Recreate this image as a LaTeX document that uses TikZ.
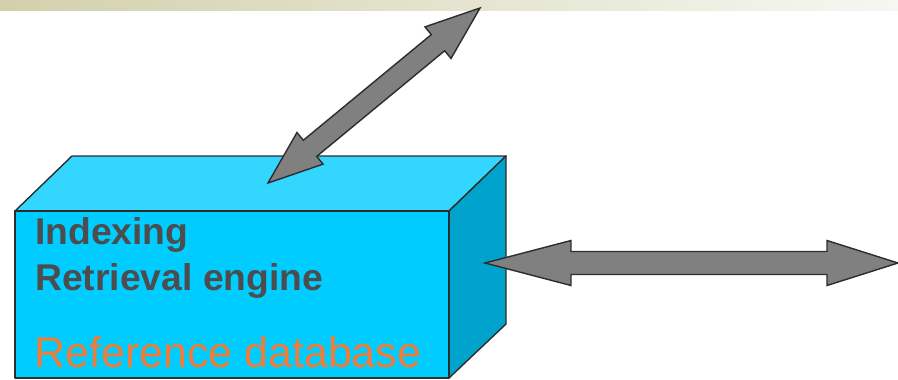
\documentclass[tikz,border=0pt]{standalone}
\usepackage{fontspec}
\setmainfont{Liberation Sans}
\usetikzlibrary{calc}
\definecolor{boxfront}{RGB}{0,204,255}
\definecolor{boxtop}{RGB}{51,214,255}
\definecolor{boxside}{RGB}{0,163,204}
\definecolor{edgegray}{RGB}{45,45,45}
\definecolor{textgray}{RGB}{77,77,77}
\definecolor{dborange}{RGB}{240,124,56}
\definecolor{bandleft}{RGB}{210,208,172}
\definecolor{bandright}{RGB}{246,247,242}
\tikzset{
    face/.style={draw=edgegray,line width=0.8pt,line join=round},
    blockarrow/.style={draw=edgegray,fill=gray,line width=0.8pt,line join=miter},
    boxlabel/.style={anchor=base west,inner sep=0pt,text=textgray,font=\bfseries\fontsize{21.2}{25}\selectfont},
  }
% double block arrow: tail tip, head tip, half shaft, half head, tail head length, head length
\newcommand\dblblockarrow[6]{%
  \coordinate (ba-a) at ($(#1)!#5!(#2)$);
  \coordinate (ba-b) at ($(#2)!#6!(#1)$);
  \draw[blockarrow] (#1)
    -- ($(ba-a)!#4!90:(#2)$) -- ($(ba-a)!#3!90:(#2)$)
    -- ($(ba-b)!#3!-90:(#1)$) -- ($(ba-b)!#4!-90:(#1)$)
    -- (#2)
    -- ($(ba-b)!#4!90:(#1)$) -- ($(ba-b)!#3!90:(#1)$)
    -- ($(ba-a)!#3!-90:(#2)$) -- ($(ba-a)!#4!-90:(#2)$) -- cycle;
}

\begin{document}
\begin{tikzpicture}[x=0.02cm,y=-0.02cm]
	\useasboundingbox (0,0) rectangle (898,379);
	\shade[left color=bandleft,right color=bandright] (0,0) rectangle (898,10);

	% box corners
	\coordinate (fl) at (15,211);
	\coordinate (fr) at (449,211);
	\coordinate (bl) at (72,156);
	\coordinate (br) at (506,156);
	\coordinate (fbl) at (15,378);
	\coordinate (fbr) at (449,378);
	\coordinate (bbr) at (506,324);

	\fill[boxtop,face] (fl) -- (bl) -- (br) -- (fr) -- cycle;
	\fill[boxside,face] (fr) -- (br) -- (bbr) -- (fbr) -- cycle;
	\fill[boxfront,face] (fl) rectangle (fbr);

	\node[boxlabel] (idx) at (35,244) {Indexing};
	\node[boxlabel] (ret) at (35,290) {Retrieval engine};
	\node[anchor=base west,inner sep=0pt,text=dborange,font=\fontsize{24.45}{29}\selectfont] (refdb) at (34,367) {Reference database};

	% arrow ends
	\coordinate (box-top) at (268,183);
	\coordinate (up-end) at (480,8);
	\coordinate (box-side) at (485,263);
	\coordinate (right-end) at (898,263);

	\dblblockarrow{box-top}{up-end}{0.21cm}{0.41cm}{1.09cm}{1.09cm}
	\dblblockarrow{box-side}{right-end}{0.23cm}{0.45cm}{1.72cm}{1.42cm}
\end{tikzpicture}
\end{document}
